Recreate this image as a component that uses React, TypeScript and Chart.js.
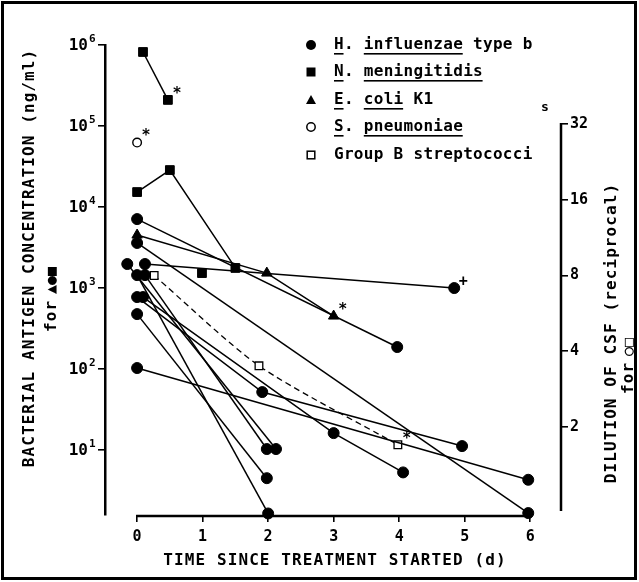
import React, { useEffect, useRef } from "react";
import { Chart, registerables } from "chart.js";
Chart.register(...registerables);

const FONT = '"DejaVu Sans Mono", monospace';

// axis ticks
const X_TICKS = [0, 1, 2, 3, 4, 5, 6];
const Y_TICKS = [10, 100, 1000, 10000, 100000, 1000000];
const Y_TICK_EXP = ["1", "2", "3", "4", "5", "6"];
const Y2_TICKS = [2, 4, 8, 16, 32];

// H. influenzae type b, antigen ng/ml  [day, value]
const hib1 = [[0, 7100], [3.97, 187]];
const hib2 = [[0, 3600], [5.97, 1.67]];
const hib3 = [[-0.15, 1980], [2.12, 10.3]];
const hib4 = [[0.12, 1980], [4.84, 1000]];
const hib5 = [[0, 1445], [2.0, 1.65]];
const hib6 = [[0.12, 1445], [1.98, 10.3]];
const hib7 = [[0, 774], [1.91, 52], [4.96, 11.2]];
const hib8 = [[0.09, 774], [3.0, 16.2], [4.06, 5.3]];
const hib9 = [[0, 477], [1.98, 4.5]];
const hib10 = [[0, 103], [5.97, 4.3]];
// N. meningitidis, ng/ml
const nm1 = [[0.09, 820000], [0.47, 210000]];
const nm2 = [[0, 15300], [0.5, 28600], [1.5, 1770]];
const nm3 = [[0.99, 1530]];
// E. coli K1, ng/ml
const ec1 = [[0, 4510], [1.98, 1530], [3.0, 451]];
// S. pneumoniae, reciprocal CSF dilution
const sp1 = [[0, 27]];
// Group B streptococci, reciprocal CSF dilution
const gbs1 = [[0.26, 8], [1.86, 3.5], [3.98, 1.7]];

// annotation marks attached to data points
const NOTES = [
  { series: nm1, index: 1, axis: "y", mark: "*" },
  { series: sp1, index: 0, axis: "y2", mark: "*" },
  { series: ec1, index: 2, axis: "y", mark: "*" },
  { series: gbs1, index: 2, axis: "y2", mark: "*" },
  { series: hib4, index: 1, axis: "y", mark: "+" },
];

const LEGEND = [
  { marker: "circle", parts: [["H", true], [". ", false], ["influenzae", true], [" type b", false]] },
  { marker: "rect", parts: [["N", true], [". ", false], ["meningitidis", true]] },
  { marker: "triangle", parts: [["E", true], [". ", false], ["coli", true], [" K1", false]] },
  { marker: "ocircle", parts: [["S", true], [". ", false], ["pneumoniae", true]] },
  { marker: "orect", parts: [["Group B streptococci", false]] },
];

const toXY = (arr: number[][]) => arr.map(([x, y]) => ({ x, y }));

const hibStyle = {
  pointStyle: "circle", pointRadius: 5.5, pointBackgroundColor: "#000", pointBorderColor: "#000",
  pointBorderWidth: 1, borderColor: "#000", borderWidth: 1.5, showLine: true, yAxisID: "y",
};
const nmStyle = { ...hibStyle, pointStyle: "rect", pointRadius: 6.2 };
const ecStyle = { ...hibStyle, pointStyle: "triangle", pointRadius: 6 };

function drawMarker(ctx: CanvasRenderingContext2D, kind: string, x: number, y: number) {
  ctx.save();
  ctx.fillStyle = "#000";
  ctx.strokeStyle = "#000";
  ctx.lineWidth = 1.5;
  ctx.beginPath();
  if (kind === "circle") { ctx.arc(x, y, 5, 0, Math.PI * 2); ctx.fill(); }
  else if (kind === "rect") { ctx.fillRect(x - 4.5, y - 4.5, 9, 9); }
  else if (kind === "triangle") { ctx.moveTo(x, y - 5); ctx.lineTo(x + 5, y + 4); ctx.lineTo(x - 5, y + 4); ctx.closePath(); ctx.fill(); }
  else if (kind === "ocircle") { ctx.arc(x, y, 4.2, 0, Math.PI * 2); ctx.stroke(); }
  else if (kind === "orect") { ctx.strokeRect(x - 3.8, y - 3.8, 7.6, 7.6); }
  ctx.restore();
}

const decorPlugin = {
  id: "decor",
  afterDraw(chart: any) {
    const ctx: CanvasRenderingContext2D = chart.ctx;
    const { x, y, y2 } = chart.scales;
    const area = chart.chartArea;
    ctx.save();
    ctx.fillStyle = "#000";
    ctx.strokeStyle = "#000";

    // frame
    ctx.lineWidth = 3;
    ctx.strokeRect(2.5, 2.5, 633, 576);

    // x axis line (0..6)
    ctx.lineWidth = 2.5;
    ctx.beginPath();
    ctx.moveTo(x.getPixelForValue(X_TICKS[0]) - 1, area.bottom + 1);
    ctx.lineTo(x.getPixelForValue(X_TICKS[X_TICKS.length - 1]) + 1, area.bottom + 1);
    ctx.stroke();

    // right axis line
    ctx.beginPath();
    ctx.moveTo(area.right, y2.getPixelForValue(Y2_TICKS[Y2_TICKS.length - 1]) - 1);
    ctx.lineTo(area.right, area.bottom - 4);
    ctx.stroke();

    // left tick labels: 10 with superscript exponent
    ctx.textBaseline = "middle";
    Y_TICKS.forEach((v, i) => {
      const py = y.getPixelForValue(v);
      ctx.font = `bold 16px ${FONT}`;
      ctx.textAlign = "right";
      ctx.fillText("10", 88, py + 1);
      ctx.font = `bold 11px ${FONT}`;
      ctx.textAlign = "left";
      ctx.fillText(Y_TICK_EXP[i], 89, py - 6);
    });

    // annotation marks
    ctx.font = `bold 15px ${FONT}`;
    ctx.textAlign = "center";
    NOTES.forEach((n) => {
      const [dx, dy] = n.series[n.index];
      const px = x.getPixelForValue(dx);
      const py = chart.scales[n.axis].getPixelForValue(dy);
      ctx.fillText(n.mark, px + 9, py - 6);
    });

    // legend
    ctx.font = `bold 16px ${FONT}`;
    (ctx as any).letterSpacing = "0.3px";
    ctx.textAlign = "left";
    const rowY = [45, 72, 100, 127, 155];
    LEGEND.forEach((row, i) => {
      const cy = rowY[i];
      drawMarker(ctx, row.marker, 311, cy);
      let tx = 334;
      row.parts.forEach(([txt, ul]) => {
        const w = ctx.measureText(txt as string).width;
        ctx.fillText(txt as string, tx, cy);
        if (ul) {
          ctx.fillRect(tx, cy + 8, w - 0.4, 1.6);
        }
        tx += w;
      });
    });

    // axis titles
    (ctx as any).letterSpacing = "1.1px";
    ctx.textAlign = "center";
    ctx.font = `bold 16px ${FONT}`;
    ctx.fillText("TIME SINCE TREATMENT STARTED (d)", 335, 561);

    ctx.save();
    ctx.translate(30, 258);
    ctx.rotate(-Math.PI / 2);
    ctx.fillText("BACTERIAL ANTIGEN CONCENTRATION (ng/ml)", 0, 0);
    ctx.restore();

    ctx.save();
    ctx.translate(52, 296);
    ctx.rotate(-Math.PI / 2);
    ctx.textAlign = "left";
    ctx.fillText("for", -36, 0);
    ctx.font = `bold 15px ${FONT}`;
    (ctx as any).letterSpacing = "0px";
    ctx.fillText("▲●■", 2, 0);
    ctx.restore();

    ctx.font = `bold 16px ${FONT}`;
    (ctx as any).letterSpacing = "1.1px";
    ctx.save();
    ctx.translate(612, 333);
    ctx.rotate(-Math.PI / 2);
    ctx.fillText("DILUTION OF CSF (reciprocal)", 0, 0);
    ctx.restore();

    ctx.save();
    ctx.translate(629, 362);
    ctx.rotate(-Math.PI / 2);
    ctx.textAlign = "left";
    ctx.fillText("for", -32, 0);
    ctx.font = `bold 15px ${FONT}`;
    (ctx as any).letterSpacing = "0px";
    ctx.fillText("○□", 6, 0);
    ctx.restore();

    // stray letter
    (ctx as any).letterSpacing = "0px";
    ctx.font = `bold 13px ${FONT}`;
    ctx.fillText("s", 545, 108);

    ctx.restore();
  },
};

export default function App() {
  const ref = useRef<HTMLCanvasElement>(null);
  useEffect(() => {
    document.body.style.margin = "0";
    const tickFont = { family: FONT, size: 15, weight: "bold" as const };
    const grid = { drawOnChartArea: false, drawTicks: true, tickLength: 7, color: "#000", lineWidth: 1.6 };
    const datasets: any[] = [
      ...[hib1, hib2, hib3, hib4, hib5, hib6, hib7, hib8, hib9, hib10].map((d) => ({ ...hibStyle, data: toXY(d) })),
      ...[nm1, nm2].map((d) => ({ ...nmStyle, data: toXY(d) })),
      { ...nmStyle, data: toXY(nm3), showLine: false },
      { ...ecStyle, data: toXY(ec1) },
      {
        ...hibStyle, data: toXY(gbs1), yAxisID: "y2", pointStyle: "rect", pointRadius: 5.4,
        pointBackgroundColor: "#fff", pointBorderWidth: 1.3, borderWidth: 1.3, borderDash: [6, 4], tension: 0.25,
      },
      {
        ...hibStyle, data: toXY(sp1), yAxisID: "y2", showLine: false, pointRadius: 4.3,
        pointBackgroundColor: "#fff", pointBorderWidth: 1.4,
      },
    ];
    datasets.forEach((d) => (d.clip = false));
    const chart = new Chart(ref.current as HTMLCanvasElement, {
      type: "scatter",
      data: { datasets },
      plugins: [decorPlugin],
      options: {
        animation: false,
        responsive: false,
        layout: { padding: { top: 45, left: 0, right: 0, bottom: 0 } },
        plugins: { legend: { display: false }, tooltip: { enabled: false }, title: { display: false } },
        scales: {
          x: {
            type: "linear", min: -0.49, max: 6.47, bounds: "data",
            afterBuildTicks: (s: any) => { s.ticks = X_TICKS.map((v) => ({ value: v })); },
            afterFit: (s: any) => { s.height = 67; },
            grid, border: { display: false },
            ticks: { font: tickFont, color: "#000", padding: 6, maxRotation: 0, autoSkip: false, callback: (v: any) => String(v) },
          },
          y: {
            type: "logarithmic", position: "left", min: 1.58, max: 1000000, bounds: "data",
            afterBuildTicks: (s: any) => { s.ticks = Y_TICKS.map((v) => ({ value: v })); },
            afterFit: (s: any) => { s.width = 105; },
            grid, border: { display: true, color: "#000", width: 2.5 },
            ticks: { display: false },
          },
          y2: {
            type: "logarithmic", position: "right", min: 0.894, max: 65.9, bounds: "data",
            afterBuildTicks: (s: any) => { s.ticks = Y2_TICKS.map((v) => ({ value: v })); },
            afterFit: (s: any) => { s.width = 78; },
            grid, border: { display: false },
            ticks: { font: tickFont, color: "#000", padding: 2, autoSkip: false, callback: (v: any) => String(v) },
          },
        },
      } as any,
    });
    return () => chart.destroy();
  }, []);
  return <canvas ref={ref} width={639} height={582} style={{ display: "block" }} />;
}
